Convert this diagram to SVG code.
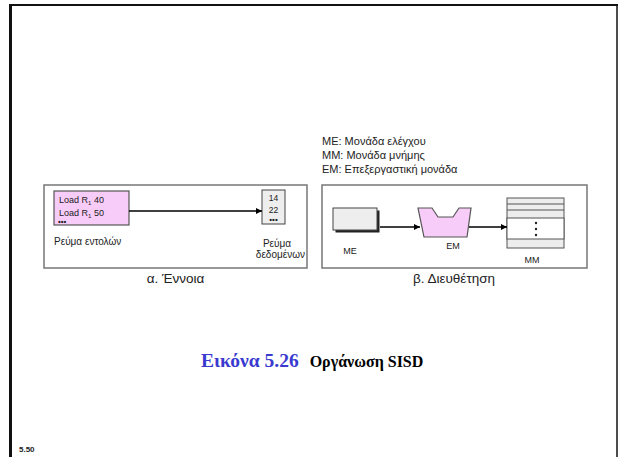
<svg xmlns="http://www.w3.org/2000/svg" width="620" height="457" viewBox="0 0 620 457">
<defs>
<style>
.t{font-family:"Liberation Sans",Arial,sans-serif;fill:#222;}
.panel{fill:#fff;stroke:#777;stroke-width:1.5;}
.conn{stroke:#000;stroke-width:1.4;fill:none;marker-end:url(#ah);}
.pink{fill:#f8ccf8;stroke:#555;stroke-width:1.2;}
.gray{fill:#eeeeee;stroke:#444;stroke-width:1;}
</style>
<marker id="ah" viewBox="0 0 10 10" refX="10" refY="5" markerWidth="6" markerHeight="6" orient="auto" markerUnits="userSpaceOnUse">
<path d="M0,0 L10,5 L0,10 z" fill="#000"/>
</marker>
</defs>
<rect width="620" height="457" fill="#fff"/>
<g id="page-border" stroke="#111" fill="none">
<line x1="9" y1="5" x2="618" y2="5" stroke-width="2"/>
<line x1="10.5" y1="4" x2="10.5" y2="457" stroke-width="3"/>
<line x1="617" y1="4" x2="617" y2="457" stroke-width="1.5"/>
</g>
<g id="legend">
<text class="t" x="322" y="145" font-size="11">ΜΕ: Μονάδα ελέγχου</text>
<text class="t" x="322" y="159" font-size="11">ΜΜ: Μονάδα μνήμης</text>
<text class="t" x="322" y="173" font-size="11">ΕΜ: Επεξεργαστική μονάδα</text>
</g>
<g id="panel-a">
<rect class="panel" x="44" y="185" width="263" height="83"/>
<text class="t" x="175.5" y="283" font-size="13.5" text-anchor="middle">α. Έννοια</text>
</g>
<g id="instruction-stream">
<rect class="pink" x="54" y="191" width="75" height="34"/>
<text class="t" x="59" y="203" font-size="9">Load R<tspan font-size="6" dy="2">1</tspan><tspan dy="-2"> 40</tspan></text>
<text class="t" x="59" y="216" font-size="9">Load R<tspan font-size="6" dy="2">1</tspan><tspan dy="-2"> 50</tspan></text>
<text class="t" x="58" y="224" font-size="8" font-weight="bold">•••</text>
<text class="t" x="54" y="245" font-size="10">Ρεύμα εντολών</text>
</g>
<g id="data-stream">
<rect class="gray" x="262" y="190" width="23" height="34" stroke="#666"/>
<text class="t" x="273.5" y="201" font-size="8.5" text-anchor="middle">14</text>
<text class="t" x="273.5" y="213" font-size="8.5" text-anchor="middle">22</text>
<text class="t" x="273.5" y="222" font-size="8" font-weight="bold" text-anchor="middle">•••</text>
<text class="t" x="277" y="247" font-size="10" text-anchor="middle">Ρεύμα</text>
<text class="t" x="305" y="258" font-size="10" text-anchor="end">δεδομένων</text>
</g>
<g id="panel-b">
<rect class="panel" x="322" y="185" width="265" height="83"/>
<text class="t" x="454" y="283" font-size="13.5" text-anchor="middle">β. Διευθέτηση</text>
</g>
<g id="ME">
<rect x="335.5" y="210.5" width="44" height="22" fill="#222"/>
<rect class="gray" x="333" y="208" width="44" height="22"/>
<text class="t" x="350" y="254" font-size="9" text-anchor="middle">ΜΕ</text>
</g>
<g id="EM">
<path class="pink" d="M418,208 L432,208 L438,217 L453,217 L459,208 L471,208 L467,237 L424,237 Z" stroke="#6a506a"/>
<text class="t" x="453" y="249" font-size="9" text-anchor="middle">ΕΜ</text>
</g>
<g id="MM">
<rect x="507" y="198" width="57" height="50" fill="#ededed" stroke="#555" stroke-width="1"/>
<rect x="507" y="218" width="57" height="21" fill="#fff" stroke="#555" stroke-width="1"/>
<line x1="507" y1="204" x2="564" y2="204" stroke="#555" stroke-width="1"/>
<line x1="507" y1="210" x2="564" y2="210" stroke="#555" stroke-width="1"/>
<circle cx="536" cy="223" r="1.2" fill="#222"/>
<circle cx="536" cy="229" r="1.2" fill="#222"/>
<circle cx="536" cy="235" r="1.2" fill="#222"/>
<text class="t" x="532" y="263" font-size="9" text-anchor="middle">ΜΜ</text>
</g>
<g id="connectors">
<line class="conn" x1="129" y1="211" x2="262" y2="211"/>
<line class="conn" x1="380" y1="227" x2="420" y2="227"/>
<line class="conn" x1="469" y1="227" x2="507" y2="227"/>
</g>
<g id="caption">
<text x="201" y="367" font-family="'Liberation Serif','Times New Roman',serif" font-weight="bold"><tspan font-size="19.5" fill="#3a3ad0">Εικόνα 5.26</tspan><tspan font-size="16" fill="#000" dx="11">Οργάνωση SISD</tspan></text>
</g>
<text x="19" y="452" font-family="'Liberation Sans',Arial,sans-serif" font-size="8" font-weight="bold" fill="#222">5.50</text>
</svg>
